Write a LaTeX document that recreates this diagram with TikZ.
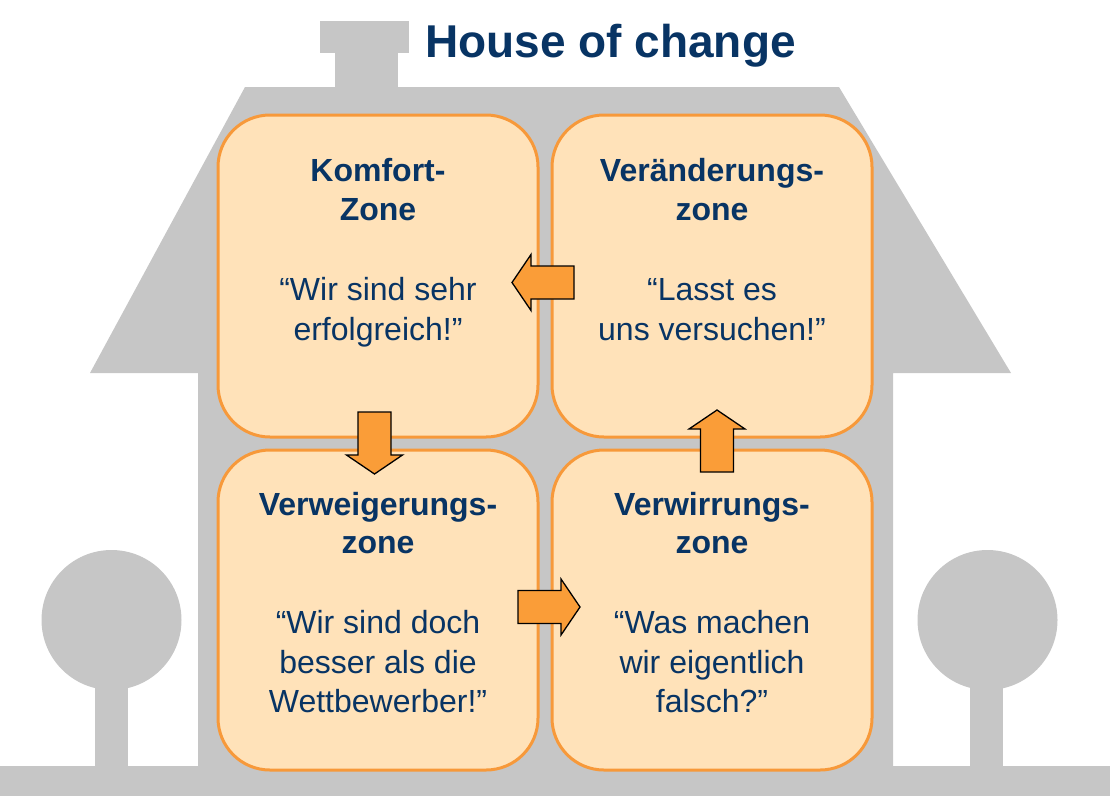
\documentclass[tikz,border=0pt]{standalone}
\usepackage{fontspec}
\setmainfont{Liberation Sans}
\definecolor{housegrey}{RGB}{198,198,198}
\definecolor{boxfill}{RGB}{255,226,185}
\definecolor{boxline}{RGB}{247,153,58}
\definecolor{arrowfill}{RGB}{250,157,56}
\definecolor{navy}{RGB}{8,52,100}
\begin{document}
\begin{tikzpicture}[x=1pt,y=-1pt,
  grey/.style={fill=housegrey,draw=none},
  zonebox/.style={draw=boxline,fill=boxfill,line width=3pt,rounded corners=52pt},
  blockarrow/.style={draw=black,fill=arrowfill,line width=1.3pt,line join=miter},
  head/.style={font=\fontsize{32}{38}\selectfont\bfseries,text=navy,anchor=base,inner sep=0pt},
  quote/.style={font=\fontsize{32}{40}\selectfont,text=navy,anchor=base,inner sep=0pt},
  title/.style={font=\fontsize{46}{50}\selectfont\bfseries,text=navy,anchor=base west,inner sep=0pt}]
\useasboundingbox (0,0) rectangle (1110,796);
% house
\fill[housegrey] (320,21) rectangle (409,53);
\fill[housegrey] (335,52) rectangle (398,88);
\fill[housegrey] (245,87) -- (839,87) -- (1011,373) -- (893,373) -- (893,768) -- (198,768) -- (198,373) -- (90,373) -- cycle;
\fill[housegrey] (0,766) rectangle (1110,796);
% trees
\fill[housegrey] (111.5,620) circle[radius=70];
\fill[housegrey] (95,640) rectangle (128,767);
\fill[housegrey] (987.5,620) circle[radius=70];
\fill[housegrey] (970,640) rectangle (1003,767);
% title
\node[title] (title) at (425,57) {House of change};
% zones
\draw[zonebox] (218,115) rectangle (538,437);
\draw[zonebox] (552,115) rectangle (872,437);
\draw[zonebox] (218,450) rectangle (538,770);
\draw[zonebox] (552,450) rectangle (872,770);
% texts top-left
\node[head] (k1) at (378,181) {Komfort-};
\node[head] (k2) at (378,220) {Zone};
\node[quote] (k3) at (378,300) {“Wir sind sehr};
\node[quote] (k4) at (378,340) {erfolgreich!”};
% top-right
\node[head] (v1) at (712,181) {Veränderungs-};
\node[head] (v2) at (712,220) {zone};
\node[quote] (v3) at (712,300) {“Lasst es};
\node[quote] (v4) at (712,340) {uns versuchen!”};
% bottom-left
\node[head] (w1) at (378,515) {Verweigerungs-};
\node[head] (w2) at (378,553) {zone};
\node[quote] (w3) at (378,633) {“Wir sind doch};
\node[quote] (w4) at (378,673) {besser als die};
\node[quote] (w5) at (378,712) {Wettbewerber!”};
% bottom-right
\node[head] (c1) at (712,515) {Verwirrungs-};
\node[head] (c2) at (712,553) {zone};
\node[quote] (c3) at (712,633) {“Was machen};
\node[quote] (c4) at (712,673) {wir eigentlich};
\node[quote] (c5) at (712,712) {falsch?”};
% block arrows (tail at origin, pointing +x before rotation)
\def\blk{(0,-16.5) -- (43,-16.5) -- (43,-28) -- (62,0) -- (43,28) -- (43,16.5) -- (0,16.5) -- cycle}
\draw[blockarrow,shift={(574,282.5)},rotate=180] \blk;
\draw[blockarrow,shift={(374.5,412)},rotate=-90] \blk;
\draw[blockarrow,shift={(518,607)}] \blk;
\draw[blockarrow,shift={(717,472)},rotate=90] \blk;
\end{tikzpicture}
\end{document}
